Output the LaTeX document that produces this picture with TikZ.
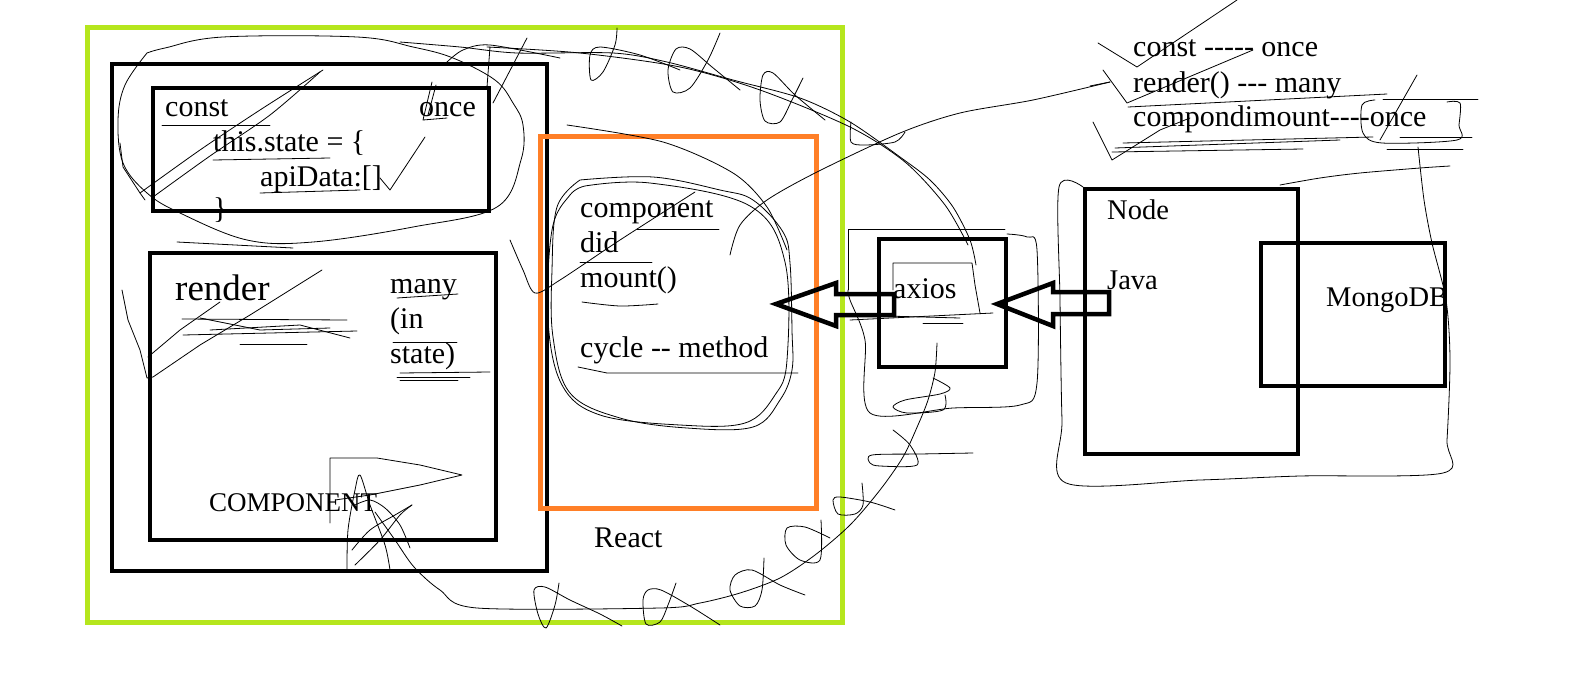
\documentclass[tikz,border=0pt]{standalone}
\usepackage{fontspec}
\setmainfont{Liberation Serif}
\usetikzlibrary{fit}
\definecolor{paintlime}{RGB}{181,230,29}
\definecolor{paintorange}{RGB}{255,127,39}
\begin{document}
\begin{tikzpicture}[x=1pt,y=-1pt,
  blk/.style={draw=black,line width=4.5pt,inner sep=0pt},
  scr/.style={draw=black,line width=0.8pt,line join=round,line cap=round},
  blockarrow/.style={draw=black,line width=4.5pt,line join=miter},
  txt/.style={anchor=base west,inner sep=0pt,font=\fontsize{30}{36}\selectfont},
  bigtxt/.style={txt,font=\fontsize{37}{44}\selectfont},
  smalltxt/.style={txt,font=\fontsize{27}{32}\selectfont},
  nodetxt/.style={txt,font=\fontsize{28.5}{34}\selectfont}]
\useasboundingbox[fill=white] (0,0) rectangle (1590,688);

% ---------- boxes ----------
\node[draw=paintlime,line width=5pt,inner sep=0pt,fit={(87,27) (842,622)}] (reactbox) {};
\node[blk,fit={(112,64) (547,571)}] (compbox) {};
\node[blk,fit={(153,88) (489,211)}] (constbox) {};
\node[blk,fit={(150,253) (496,540)}] (renderbox) {};
\node[draw=paintorange,line width=5pt,inner sep=0pt,fit={(540,136) (816,508)}] (mountbox) {};
\node[blk,fit={(879,239) (1006,367)}] (axiosbox) {};
\node[blk,fit={(1085,189) (1298,454)}] (nodebox) {};
\node[blk,fit={(1261,243) (1445,386)}] (mongobox) {};

% ---------- texts ----------
\node[txt] (tconst) at (165,116) {const};
\node[txt] (tonce) at (419,116) {once};
\node[txt] (tstate) at (213,151) {this.state = \{};
\node[txt] (tapi) at (260,186) {apiData:[]};
\node[txt] (tbrace) at (213,218) {\}};
\node[bigtxt] (trender) at (175,300) {render};
\node[txt] (tmany) at (390,293) {many};
\node[txt] (tin) at (390,328) {(in};
\node[txt] (tinstate) at (390,363) {state)};
\node[smalltxt] (tcomponent) at (209,511) {COMPONENT};
\node[txt] (tcdm1) at (580,217) {component};
\node[txt] (tcdm2) at (580,252) {did};
\node[txt] (tcdm3) at (580,287) {mount()};
\node[txt] (tcycle) at (580,357) {cycle -{}- method};
\node[txt] (treact) at (594,547) {React};
\node[txt] (taxios) at (893,298) {axios};
\node[nodetxt] (tnode) at (1107,219) {Node};
\node[nodetxt] (tjava) at (1107,289) {Java};
\node[nodetxt] (tmongo) at (1326,306) {MongoDB};
\node[txt] (tnote1) at (1133,56) {const -{}-{}-{}-{}- once};
\node[txt] (tnote2) at (1133,92) {render() -{}-{}- many};
\node[txt] (tnote3) at (1133,126) {compondimount-{}-{}-{}-once};

% ---------- block arrows ----------
\draw[blockarrow] (776,304) -- (836,283) -- (836,294) -- (894,294) -- (894,315) -- (836,315) -- (836,326) -- cycle;
\draw[blockarrow] (997,304) -- (1053,283) -- (1053,292) -- (1109,292) -- (1109,314) -- (1053,314) -- (1053,326) -- cycle;

% ---------- scribbles: const area ----------
\draw[scr] plot[smooth,tension=0.6] coordinates {(147,53) (165,48) (223,37) (357,37) (413,47) (453,58) (495,80) (513,103) (523,125) (521,160) (497,207) (413,227) (313,242) (247,240) (180,213) (147,193) (123,163) (118,120) (125,85) (147,53)};
\draw[scr] plot[smooth] coordinates {(140,193) (200,150) (260,110) (323,70)};
\draw[scr] plot[smooth] coordinates {(153,197) (210,156) (270,115) (320,72)};
\draw[scr] (120,143) -- (123,167) -- (140,193) -- (145,200);
\draw[scr] (425,137) -- (390,190) -- (380,178);
\draw[scr] (432,82) -- (423,120) -- (447,118);
\draw[scr] (436,85) -- (428,115);
\draw[scr] plot[smooth] coordinates {(447,62) (463,50) (490,45) (560,58)};
\draw[scr] (490,47) -- (487,87);
\draw[scr] (527,38) -- (493,103);
\draw[scr] (162,125) -- (270,125);
\draw[scr] (213,160) -- (330,158);
\draw[scr] (260,193) -- (360,190);
\draw[scr] (177,242) -- (293,248);

% ---------- scribbles: render area ----------
\draw[scr] (122,290) -- (128,320) -- (140,350) -- (147,378) -- (153,377) -- (200,345) -- (250,315) -- (322,270);
\draw[scr] (148,357) -- (180,330) -- (220,302);
\draw[scr] (182,319) -- (347,320);
\draw[scr] (183,335) -- (357,331);
\draw[scr] (200,318) -- (260,330) -- (330,328);
\draw[scr] (210,330) -- (300,325) -- (350,338);
\draw[scr] (240,344) -- (307,344);
\draw[scr] (397,298) -- (458,294);
\draw[scr] (393,342) -- (457,342);
\draw[scr] (400,373) -- (490,372);
\draw[scr] (397,377) -- (470,377);
\draw[scr] (400,380) -- (458,380);
% COMPONENT flag & tangle
\draw[scr] (330,523) -- (330,458) -- (377,458) -- (420,465) -- (462,475) -- (420,485) -- (370,495) -- (335,500);
\draw[scr] plot[smooth] coordinates {(347,570) (348,530) (355,490) (360,475) (370,505) (385,545) (390,570)};
\draw[scr] plot[smooth] coordinates {(352,550) (370,530) (395,515) (412,505)};
\draw[scr] plot[smooth] coordinates {(355,565) (380,540) (400,515) (412,505)};
\draw[scr] plot[smooth] coordinates {(355,505) (370,500) (385,508) (400,525) (410,548)};

% ---------- scribbles: big loop around orange box ----------
\draw[scr] plot[smooth] coordinates {(400,42) (460,47) (517,53) (613,53) (667,62) (733,80) (800,98) (850,122) (900,157) (930,180) (953,207) (970,240) (976,265)};
\draw[scr] plot[smooth] coordinates {(487,47) (580,53) (680,67) (760,90) (850,127) (905,162) (945,205) (968,245)};
\draw[scr] plot[smooth] coordinates {(617,28) (615,45) (603,72) (591,80) (590,55) (600,47) (640,55) (680,70)};
\draw[scr] plot[smooth] coordinates {(720,33) (708,60) (690,88) (673,92) (668,70) (676,49) (690,49) (712,67) (740,90)};
\draw[scr] plot[smooth] coordinates {(803,78) (792,100) (780,122) (765,121) (760,100) (763,75) (773,73) (795,95) (825,120)};
\draw[scr] plot[smooth] coordinates {(851,122) (851,142) (865,145) (895,142) (905,132)};
\draw[scr] plot[smooth] coordinates {(937,343) (935,372) (928,400) (918,425) (903,457) (880,490) (850,525) (815,555) (780,578) (740,593) (700,603) (660,608) (477,608) (440,590) (414,567) (395,540) (375,512)};
\draw[scr] plot[smooth] coordinates {(559,583) (555,605) (546,628) (538,614) (534,590) (545,587) (570,600) (600,614) (622,626)};
\draw[scr] plot[smooth] coordinates {(676,583) (668,605) (660,622) (646,624) (643,600) (648,590) (661,590) (690,606) (720,625)};
\draw[scr] plot[smooth] coordinates {(764,558) (762,590) (755,606) (740,606) (730,590) (735,575) (752,570) (780,585) (805,595)};
\draw[scr] plot[smooth] coordinates {(821,520) (820,560) (800,560) (786,545) (787,528) (805,527) (830,538)};
\draw[scr] plot[smooth] coordinates {(862,483) (863,505) (855,514) (838,514) (833,500) (840,497) (870,502) (895,510)};
\draw[scr] plot[smooth] coordinates {(973,453) (920,454) (872,455) (870,463) (880,466) (917,465) (910,445) (893,430)};
\draw[scr] plot[smooth] coordinates {(933,378) (950,388) (940,394) (905,400) (893,407) (907,413) (943,410) (945,395)};

% ---------- scribbles: orange circle ----------
\draw[scr] plot[smooth,tension=0.6] coordinates {(580,180) (653,177) (720,190) (753,200) (783,232) (790,263) (792,330) (792,370) (780,400) (753,427) (687,428) (620,418) (570,393) (553,337) (552,270) (557,207) (580,180)};
\draw[scr] plot[smooth,tension=0.6] coordinates {(585,186) (650,183) (750,206) (785,262) (787,360) (775,395) (745,423) (680,425) (600,415) (562,385) (548,320) (552,230) (570,195) (585,186)};
\draw[scr] plot[smooth] coordinates {(567,125) (663,142) (733,173) (767,207) (787,250)};
\draw[scr] plot[smooth] coordinates {(510,240) (523,270) (535,293) (560,280) (620,240) (695,192)};
\draw[scr] plot[smooth] coordinates {(730,255) (740,225) (767,200) (817,172) (900,133) (960,113) (1033,100) (1110,82)};
\draw[scr] (637,229) -- (719,229);
\draw[scr] (580,262) -- (652,262);
\draw[scr] plot[smooth] coordinates {(582,302) (620,306) (658,304)};
\draw[scr] (578,367) -- (607,373) -- (798,373);

% ---------- scribbles: axios ----------
\draw[scr] (848,290) -- (848,229) -- (1005,229);
\draw[scr] plot[smooth] coordinates {(1007,234) (1027,237) (1037,250) (1037,383) (1020,405) (953,408) (870,413) (865,340) (850,300) (848,290)};
\draw[scr] (893,290) -- (893,263) -- (972,263) -- (975,285) -- (980,313);
\draw[scr] (850,320) -- (993,313);
\draw[scr] (923,323) -- (963,323);
\draw[scr] (885,316) -- (960,318);

% ---------- scribbles: Node / MongoDB wrap ----------
\draw[scr] plot[smooth] coordinates {(1083,187) (1059,187) (1060,300) (1062,420) (1066,483) (1200,480) (1300,476) (1443,473) (1447,440) (1450,360) (1446,300) (1432,243) (1424,200) (1418,147)};
\draw[scr] plot[smooth] coordinates {(1280,185) (1320,178) (1360,173) (1420,168) (1450,166)};

% ---------- scribbles: notes ----------
\draw[scr] (1098,43) -- (1137,67) -- (1237,0);
\draw[scr] (1103,70) -- (1127,103) -- (1253,50);
\draw[scr] (1110,82) -- (1090,86);
\draw[scr] (1128,107) -- (1387,94);
\draw[scr] (1093,122) -- (1112,160) -- (1160,130) -- (1190,118);
\draw[scr] (1123,143) -- (1373,137);
\draw[scr] (1112,152) -- (1303,149);
\draw[scr] (1115,148) -- (1340,140);
\draw[scr] plot[smooth] coordinates {(1447,102) (1460,103) (1459,125) (1457,140) (1382,143) (1363,133) (1362,105) (1375,100)};
\draw[scr] (1417,75) -- (1380,140);
\draw[scr] (1383,99) -- (1478,99);
\draw[scr] (1400,137) -- (1472,137);
\draw[scr] (1387,149) -- (1463,149);
\end{tikzpicture}
\end{document}
